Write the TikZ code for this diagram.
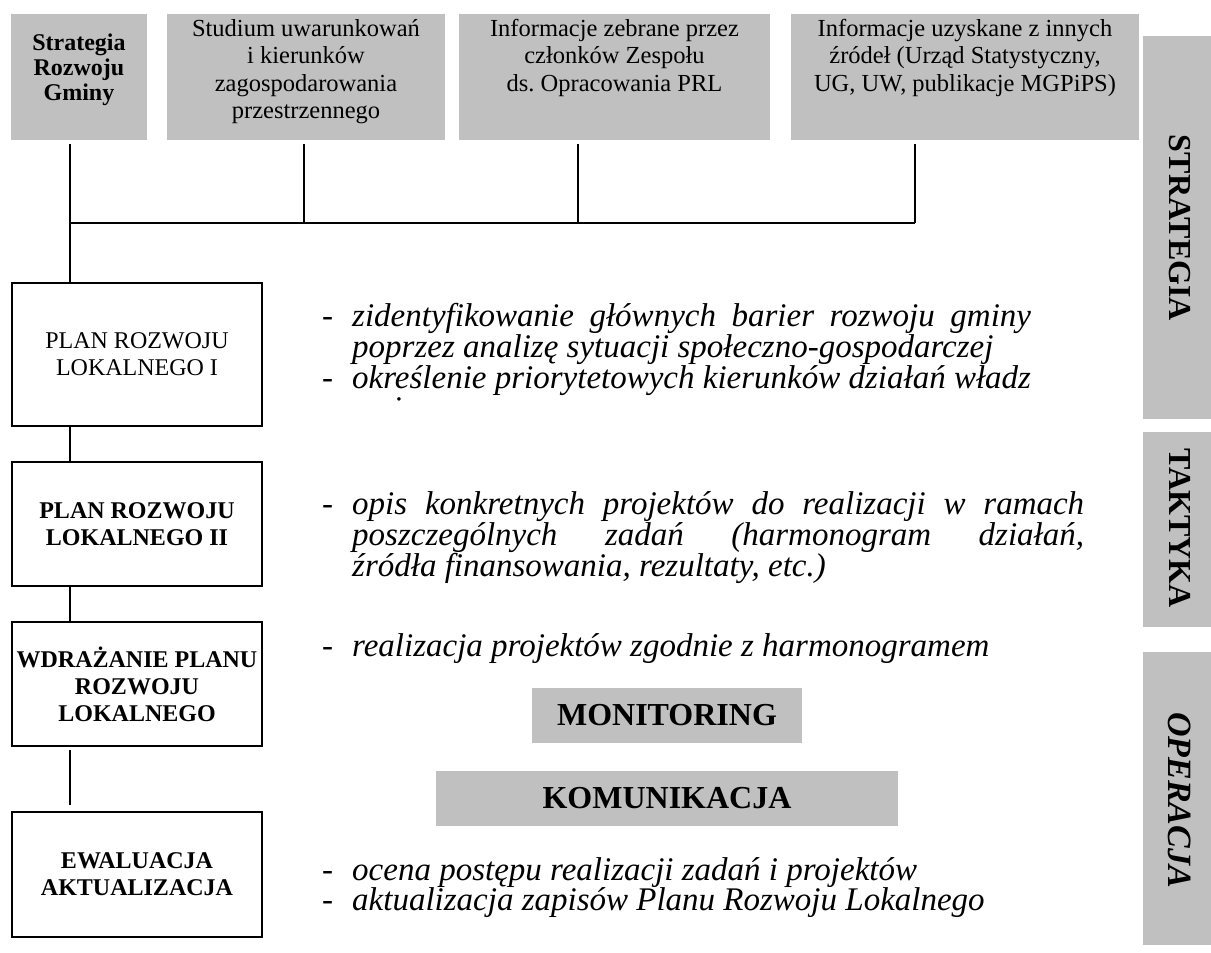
\documentclass[tikz,border=0pt]{standalone}
\usepackage{fontspec}
\setmainfont{Liberation Serif}
\definecolor{boxgray}{HTML}{C0C0C0}
\newlength\lineW
\frenchspacing
\begin{document}
\settowidth{\lineW}{\fontsize{33pt}{31pt}\selectfont\itshape określenie priorytetowych kierunków działań władz}
\begin{tikzpicture}[x=1pt,y=-1pt,
  topbox/.style={fill=boxgray, draw=none, inner sep=0pt, minimum height=126pt},
  stagebox/.style={draw=black, line width=1.5pt, fill=white, inner sep=0pt, minimum width=250pt, align=center},
  sidebox/.style={fill=boxgray, draw=none, inner sep=0pt, minimum width=68pt},
  graybox/.style={fill=boxgray, draw=none, inner sep=0pt, minimum height=55pt, font=\fontsize{32pt}{36pt}\selectfont\bfseries},
  link/.style={line width=1.5pt},
  itl/.style={anchor=base west, inner sep=0pt, font=\fontsize{33pt}{31pt}\selectfont\itshape},
  dsh/.style={anchor=base west, inner sep=0pt, font=\fontsize{33pt}{31pt}\selectfont},
  toptext/.style={anchor=north, inner sep=0pt, align=center, font=\fontsize{24.5pt}{27.5pt}\selectfont},
  sidetext/.style={rotate=-90, inner sep=0pt, font=\fontsize{32pt}{36pt}\selectfont\bfseries},
  boldbox/.style={font=\fontsize{24pt}{27pt}\selectfont\bfseries},
  plainfont/.style={font=\fontsize{24pt}{27pt}\selectfont}
]
\useasboundingbox (0,0) rectangle (1211,953);

% top gray boxes
\node[topbox, minimum width=136pt] (b1) at (79,77) {};
\node[topbox, minimum width=278pt] (b2) at (306,77) {};
\node[topbox, minimum width=311pt] (b3) at (614.5,77) {};
\node[topbox, minimum width=348pt] (b4) at (965,77) {};
\node[inner sep=0pt, align=center, font=\fontsize{24pt}{25pt}\selectfont\bfseries] (t1) at (79,70) {Strategia\\Rozwoju\\Gminy};
\node[toptext] (t2) at (306,19) {Studium uwarunkowań\\i kierunków\\zagospodarowania\\przestrzennego};
\node[toptext] (t3) at (614.5,19) {Informacje zebrane przez\\członków Zespołu\\ds. Opracowania PRL};
\node[toptext] (t4) at (965,19) {Informacje uzyskane z innych\\źródeł (Urząd Statystyczny,\\UG, UW, publikacje MGPiPS)};

% side bars
\node[sidebox, minimum height=383pt] (s1) at (1177,227.5) {};
\node[sidebox, minimum height=195pt] (s2) at (1177,529.5) {};
\node[sidebox, minimum height=293pt] (s3) at (1177,798.5) {};
\node[sidetext] (st1) at (1180,228) {STRATEGIA};
\node[sidetext] (st2) at (1180,528) {TAKTYKA};
\node[sidetext, font=\fontsize{34pt}{36pt}\selectfont\bfseries\itshape] (st3) at (1180,800) {OPERACJA};

% left stage boxes
\node[stagebox, plainfont, minimum height=143pt] (p1) at (137,354.5) {PLAN ROZWOJU\\LOKALNEGO I};
\node[stagebox, boldbox, minimum height=124pt] (p2) at (137,524) {PLAN ROZWOJU\\LOKALNEGO II};
\node[stagebox, boldbox, minimum height=124pt] (p3) at (137,684) {WDRAŻANIE PLANU\\ROZWOJU\\LOKALNEGO};
\node[stagebox, boldbox, minimum height=125pt] (p4) at (137,874.5) {EWALUACJA\\AKTUALIZACJA};

% connectors
\coordinate (jl) at (70,223);
\coordinate (j2) at (304,223);
\coordinate (j3) at (578,223);
\coordinate (j4) at (915,223);
\draw[link, shorten <=4pt] (b1.south -| jl) -- (p1.north -| jl);
\draw[link, shorten <=4pt] (b2.south -| j2) -- (j2);
\draw[link, shorten <=4pt] (b3.south -| j3) -- (j3);
\draw[link, shorten <=4pt] (b4.south -| j4) -- (j4);
\draw[link] (jl) -- (j4);
\draw[link] (p1.south -| jl) -- (p2.north -| jl);
\draw[link] (p2.south -| jl) -- (p3.north -| jl);
\draw[link, shorten <=3pt, shorten >=6pt] (p3.south -| jl) -- (p4.north -| jl);

% section 1
\node[dsh] (d1) at (322,326) {-};
\node[itl] (l1) at (352,326) {\makebox[\lineW][s]{zidentyfikowanie głównych barier rozwoju gminy}};
\node[itl] (l2) at (352,357) {poprzez analizę sytuacji społeczno-gospodarczej};
\node[dsh] (d2) at (322,388) {-};
\node[itl] (l3) at (352,388) {określenie priorytetowych kierunków działań władz};
\begin{scope}
\clip (300,394) rectangle (1100,400.5);
\node[itl] (l4) at (352,419) {gminy};
\end{scope}

% section 2
\node[dsh] (d3) at (322,514) {-};
\node[itl] (l5) at (352,514) {\makebox[732pt][s]{opis konkretnych projektów do realizacji w ramach}};
\node[itl] (l6) at (352,545) {\makebox[732pt][s]{poszczególnych zadań (harmonogram działań,}};
\node[itl] (l7) at (352,576) {źródła finansowania, rezultaty, etc.)};

% section 3
\node[dsh] (d4) at (322,656) {-};
\node[itl] (l8) at (352,656) {realizacja projektów zgodnie z harmonogramem};
\node[graybox, minimum width=270pt] (mon) at (667,715.5) {MONITORING};
\node[graybox, minimum width=462pt] (kom) at (667,798.5) {KOMUNIKACJA};

% section 4
\node[dsh] (d5) at (322,880) {-};
\node[itl] (l9) at (352,880) {ocena postępu realizacji zadań i projektów};
\node[dsh] (d6) at (322,910) {-};
\node[itl] (l10) at (352,910) {aktualizacja zapisów Planu Rozwoju Lokalnego};
\end{tikzpicture}
\end{document}
